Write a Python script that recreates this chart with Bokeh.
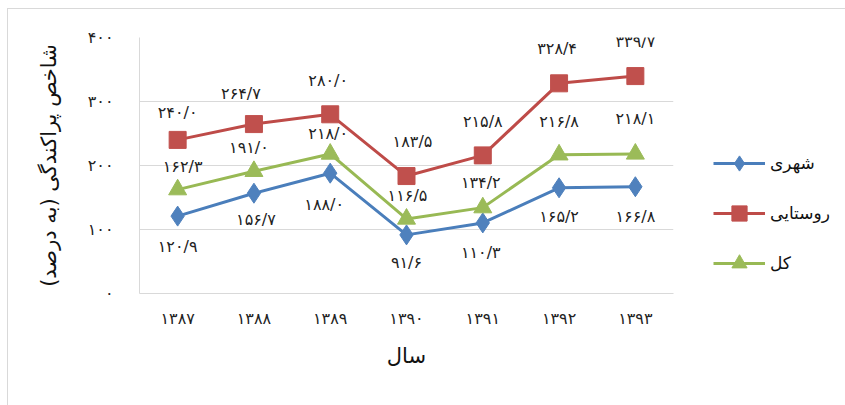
from bokeh.plotting import figure
from bokeh.layouts import row
from bokeh.models import ColumnDataSource, Range1d, FixedTicker, Legend, LegendItem
from bokeh.core.properties import value
from bokeh.embed import file_html
from bokeh.resources import INLINE

# ---- data ----
years = ["۱۳۸۷", "۱۳۸۸", "۱۳۸۹", "۱۳۹۰", "۱۳۹۱", "۱۳۹۲", "۱۳۹۳"]
urban = [120.9, 156.7, 188.0, 91.6, 110.3, 165.2, 166.8]
rural = [240.0, 264.7, 280.0, 183.5, 215.8, 328.4, 339.7]
total = [162.3, 191.0, 218.0, 116.5, 134.2, 216.8, 218.1]
series_names = ["شهری", "روستایی", "کل"]
y_ticks = [0, 100, 200, 300, 400]
y_tick_labels = ["۰", "۱۰۰", "۲۰۰", "۳۰۰", "۴۰۰"]
x_title = "سال"
y_title = "شاخص پراکندگی (به درصد)"

# ---- label placement (screen px offsets) ----
rural_dx = [0, -13, -2, 6, 0, -2, 0]
rural_dy = [-27, -31, -34, -35, -34, -35, -35]
total_dx = [5, -5, -2, 1, -2, 0, 0]
total_dy = [-23, -24, -20, -23, -25, -33, -35]
urban_dx = [0, 2, -6, 0, -2, 0, 0]
urban_dy = [30, 26, 31, 28, 30, 29, 30]

FONT = "DejaVu Sans"
tr = str.maketrans("0123456789.", "۰۱۲۳۴۵۶۷۸۹/")


def fa(v):
    return ("%.1f" % v).translate(tr)


p = figure(x_range=years, y_range=Range1d(0, 400), width=700, height=405,
           output_backend="svg", toolbar_location=None,
           min_border_left=139, min_border_right=27,
           min_border_top=37, min_border_bottom=112)
p.outline_line_color = None
p.background_fill_color = None
p.border_fill_color = None

p.xgrid.grid_line_color = None
p.ygrid.grid_line_color = "#d9d9d9"
p.ygrid.grid_line_width = 1
p.yaxis.ticker = FixedTicker(ticks=y_ticks)
p.yaxis.major_label_overrides = {t: l for t, l in zip(y_ticks, y_tick_labels)}

for ax in (p.xaxis, p.yaxis):
    ax.axis_line_color = "#d9d9d9"
    ax.major_tick_line_color = None
    ax.minor_tick_line_color = None
    ax.major_label_text_font = FONT
    ax.major_label_text_font_size = "16px"
    ax.major_label_text_color = "#222222"
    ax.axis_label_text_font = FONT
    ax.axis_label_text_font_style = "normal"
    ax.axis_label_text_font_size = "21px"
    ax.axis_label_text_color = "#111111"

p.yaxis.major_label_standoff = 20
p.xaxis.major_label_standoff = 9
p.xaxis.axis_label = x_title
p.yaxis.axis_label = y_title
p.xaxis.axis_label_standoff = 13
p.yaxis.axis_label_standoff = 24

specs = [
    (urban, "#4a7ebb", "#4f81bd", "diamond", 20, urban_dx, urban_dy),
    (rural, "#be4b48", "#c0504d", "square", 17, rural_dx, rural_dy),
    (total, "#98b954", "#9bbb59", "triangle", 18, total_dx, total_dy),
]

# legend panel: frameless figure to the right, same vertical borders as the chart
pl = figure(width=145, height=405, x_range=years, y_range=Range1d(0, 400),
            output_backend="svg", toolbar_location=None,
            min_border_left=13, min_border_right=0, min_border_top=37, min_border_bottom=112)
pl.axis.visible = False
pl.grid.visible = False
pl.outline_line_color = None
pl.background_fill_color = None
pl.border_fill_color = None

items = []
for name, (vals, lc, fc, mk, ms, dx, dy) in zip(series_names, specs):
    src = ColumnDataSource(dict(x=years, y=vals, lab=[fa(v) for v in vals], dx=dx, dy=dy))
    p.line("x", "y", source=src, line_color=lc, line_width=3)
    p.scatter("x", "y", source=src, marker=mk, size=ms, fill_color=fc, line_color=fc)
    p.text("x", "y", text="lab", source=src, x_offset="dx", y_offset="dy",
           text_align="center", text_baseline="middle",
           text_font=value(FONT), text_font_size="16px", text_color="#222222")
    l1 = pl.line("x", "y", source=src, line_color=lc, line_width=3, visible=False)
    l2 = pl.scatter("x", "y", source=src, marker=mk, size=ms, fill_color=fc,
                    line_color=fc, visible=False)
    items.append(LegendItem(label=name, renderers=[l1, l2], index=0))

legend = Legend(items=items, location=(0, 11), orientation="vertical",
                glyph_width=52, glyph_height=38, label_height=38,
                spacing=12, padding=0, margin=0, label_standoff=5,
                label_text_font=FONT, label_text_font_size="17px",
                label_text_color="#111111", inactive_fill_alpha=0,
                border_line_color=None, background_fill_alpha=0)
pl.add_layout(legend, "center")

bg = ("linear-gradient(#d9d9d9, #d9d9d9) 7px 8px / 1px 100% no-repeat, "
      "linear-gradient(#d9d9d9, #d9d9d9) 7px 8px / 100% 1px no-repeat, white")
layout = row(p, pl, spacing=0, styles={"background": bg})
open("out.html", "w").write(file_html(layout, INLINE))
